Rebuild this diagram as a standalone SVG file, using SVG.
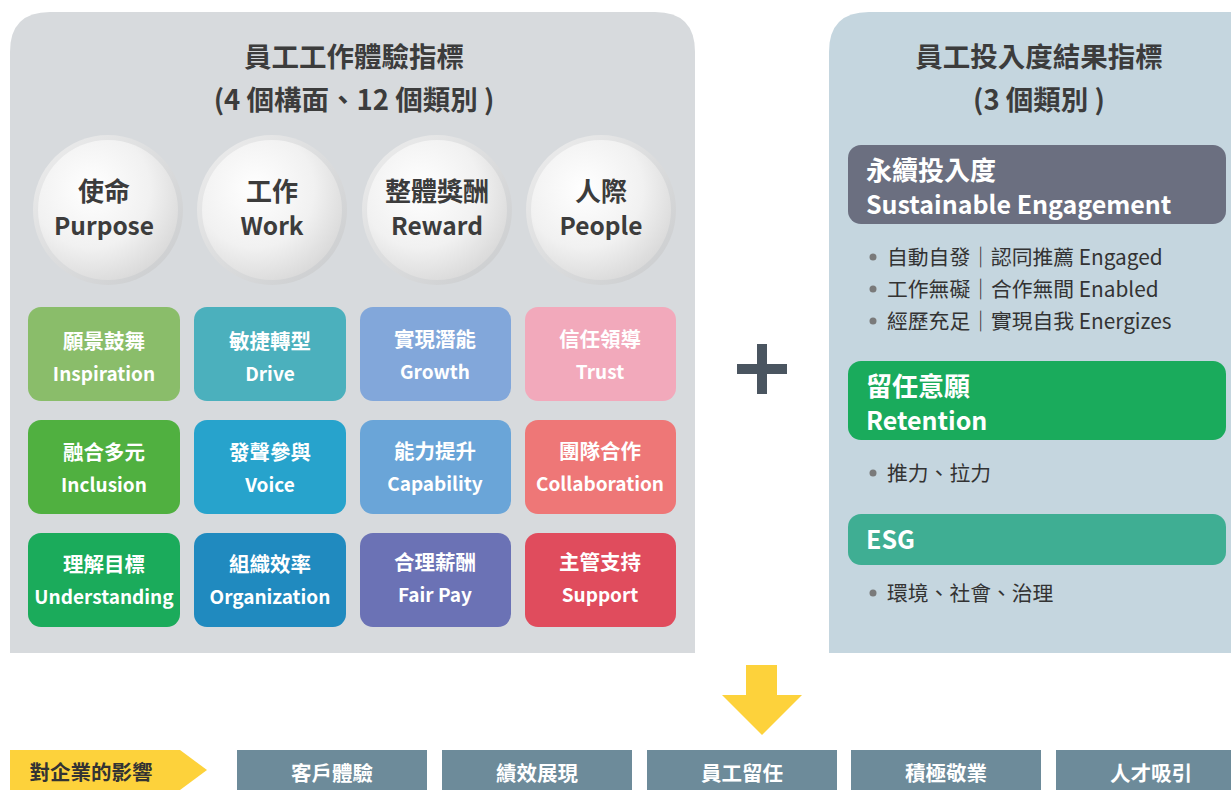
<svg xmlns="http://www.w3.org/2000/svg" width="1231" height="790" viewBox="0 0 1231 790">
<defs>
<radialGradient id="cg" cx="0.38" cy="0.35" r="0.7">
<stop offset="0" stop-color="#ffffff"/>
<stop offset="0.6" stop-color="#f1f1f1"/>
<stop offset="1" stop-color="#d9d9d9"/>
</radialGradient>
<linearGradient id="rg" x1="0" y1="0" x2="1" y2="1">
<stop offset="0" stop-color="#eeeeee"/>
<stop offset="1" stop-color="#c9cbcd"/>
</linearGradient>
<style>
text{font-family:"Noto Sans CJK TC","Noto Sans",sans-serif}
.ttl{font-size:27.5px;font-weight:700;fill:#3c3c3c;text-anchor:middle}
.cir{font-size:26px;font-weight:700;fill:#3c3c3c;text-anchor:middle}
.cire{font-size:24.5px;font-weight:700;fill:#3c3c3c;text-anchor:middle}
.tile{font-size:20.5px;font-weight:700;fill:#ffffff;text-anchor:middle}
.tilee{font-size:19px;font-weight:700;fill:#ffffff;text-anchor:middle}
.hd{font-size:26px;font-weight:700;fill:#ffffff}
.hde{font-size:25px;font-weight:700;fill:#ffffff}
.bl{font-size:20.8px;fill:#333333}
.dot{fill:#7a7a7a}
.bt{font-size:20.5px;font-weight:700;fill:#ffffff;text-anchor:middle}
.gb{fill:#6d8b9a}
</style>
</defs>
<rect width="1231" height="790" fill="#ffffff"/>
<g id="left-panel">
<path d="M10 653 V52 Q10 12 50 12 H655 Q695 12 695 52 V653 Z" fill="#d7dadd"/>
<text class="ttl" x="354" y="67">員工工作體驗指標</text>
<text class="ttl" x="354" y="110">(4 個構面、12 個類別 )</text>
</g>
<g id="circle-purpose">
<circle cx="108" cy="210" r="75" fill="url(#rg)"/>
<circle cx="108" cy="210" r="70" fill="url(#cg)"/>
<text class="cir" x="104" y="201">使命</text>
<text class="cire" x="104" y="235">Purpose</text>
</g>
<g id="circle-work">
<circle cx="272" cy="210" r="75" fill="url(#rg)"/>
<circle cx="272" cy="210" r="70" fill="url(#cg)"/>
<text class="cir" x="272" y="201">工作</text>
<text class="cire" x="272" y="235">Work</text>
</g>
<g id="circle-reward">
<circle cx="437" cy="210" r="75" fill="url(#rg)"/>
<circle cx="437" cy="210" r="70" fill="url(#cg)"/>
<text class="cir" x="437" y="201">整體獎酬</text>
<text class="cire" x="437" y="235">Reward</text>
</g>
<g id="circle-people">
<circle cx="601" cy="210" r="75" fill="url(#rg)"/>
<circle cx="601" cy="210" r="70" fill="url(#cg)"/>
<text class="cir" x="601" y="201">人際</text>
<text class="cire" x="601" y="235">People</text>
</g>
<g id="tile-inspiration"><rect x="28" y="307" width="152" height="94" rx="13" fill="#8abd6a"/><text class="tile" x="104" y="349">願景鼓舞</text><text class="tilee" x="104" y="381">Inspiration</text></g>
<g id="tile-drive"><rect x="194" y="307" width="152" height="94" rx="13" fill="#4bb0bd"/><text class="tile" x="270" y="349">敏捷轉型</text><text class="tilee" x="270" y="381">Drive</text></g>
<g id="tile-growth"><rect x="360" y="307" width="151" height="94" rx="13" fill="#82a7da"/><text class="tile" x="435" y="347">實現潛能</text><text class="tilee" x="435" y="379">Growth</text></g>
<g id="tile-trust"><rect x="525" y="307" width="151" height="94" rx="13" fill="#f2a9bb"/><text class="tile" x="600" y="347">信任領導</text><text class="tilee" x="600" y="379">Trust</text></g>
<g id="tile-inclusion"><rect x="28" y="420" width="152" height="94" rx="13" fill="#50b040"/><text class="tile" x="104" y="460">融合多元</text><text class="tilee" x="104" y="492">Inclusion</text></g>
<g id="tile-voice"><rect x="194" y="420" width="152" height="94" rx="13" fill="#27a3cc"/><text class="tile" x="270" y="460">發聲參與</text><text class="tilee" x="270" y="492">Voice</text></g>
<g id="tile-capability"><rect x="360" y="420" width="151" height="94" rx="13" fill="#6aa5d8"/><text class="tile" x="435" y="459">能力提升</text><text class="tilee" x="435" y="491">Capability</text></g>
<g id="tile-collaboration"><rect x="525" y="420" width="151" height="94" rx="13" fill="#ee7777"/><text class="tile" x="600" y="459">團隊合作</text><text class="tilee" x="600" y="491">Collaboration</text></g>
<g id="tile-understanding"><rect x="28" y="533" width="152" height="94" rx="13" fill="#1bab5b"/><text class="tile" x="104" y="572">理解目標</text><text class="tilee" x="104" y="604">Understanding</text></g>
<g id="tile-organization"><rect x="194" y="533" width="152" height="94" rx="13" fill="#208abf"/><text class="tile" x="270" y="572">組織效率</text><text class="tilee" x="270" y="604">Organization</text></g>
<g id="tile-fairpay"><rect x="360" y="533" width="151" height="94" rx="13" fill="#6b72b5"/><text class="tile" x="435" y="570">合理薪酬</text><text class="tilee" x="435" y="602">Fair Pay</text></g>
<g id="tile-support"><rect x="525" y="533" width="151" height="94" rx="13" fill="#e04c5d"/><text class="tile" x="600" y="570">主管支持</text><text class="tilee" x="600" y="602">Support</text></g>
<g id="plus">
<rect x="737" y="364" width="50" height="10" fill="#4a5560"/>
<rect x="757" y="344" width="10" height="50" fill="#4a5560"/>
</g>
<g id="right-panel">
<path d="M829 653 V52 Q829 12 869 12 H1231 V653 Z" fill="#c5d6df"/>
<text class="ttl" x="1039" y="67">員工投入度結果指標</text>
<text class="ttl" x="1039" y="110">(3 個類別 )</text>
</g>
<g id="box-engagement">
<rect x="848" y="145" width="378" height="79" rx="13" fill="#6b6f80"/>
<text class="hd" x="866" y="180">永續投入度</text>
<text class="hde" x="866" y="214">Sustainable Engagement</text>
<circle class="dot" cx="873" cy="257" r="3.5"/><text class="bl" x="887" y="265">自動自發｜認同推薦 Engaged</text>
<circle class="dot" cx="873" cy="289" r="3.5"/><text class="bl" x="887" y="297">工作無礙｜合作無間 Enabled</text>
<circle class="dot" cx="873" cy="321" r="3.5"/><text class="bl" x="887" y="329">經歷充足｜實現自我 Energizes</text>
</g>
<g id="box-retention">
<rect x="848" y="361" width="378" height="79" rx="13" fill="#1aab5c"/>
<text class="hd" x="866" y="396">留任意願</text>
<text class="hde" x="866" y="430">Retention</text>
<circle class="dot" cx="873" cy="473" r="3.5"/><text class="bl" x="887" y="481">推力、拉力</text>
</g>
<g id="box-esg">
<rect x="848" y="514" width="378" height="51" rx="13" fill="#3fae93"/>
<text class="hde" x="866" y="549">ESG</text>
<circle class="dot" cx="873" cy="593" r="3.5"/><text class="bl" x="887" y="601">環境、社會、治理</text>
</g>
<g id="connectors">
<path d="M746 665 H777 V695 H802 L762 735 L722 695 H746 Z" fill="#fdd23b"/>
</g>
<g id="impact-label">
<path d="M10 750 H180 L207 770 L180 790 H10 Z" fill="#fdd23b"/>
<text x="91" y="780" style="font-size:20.5px;font-weight:700;fill:#333333;text-anchor:middle">對企業的影響</text>
</g>
<g id="impact-customer"><rect class="gb" x="237" y="750" width="190" height="40"/><text class="bt" x="332" y="781">客戶體驗</text></g>
<g id="impact-performance"><rect class="gb" x="442" y="750" width="190" height="40"/><text class="bt" x="537" y="781">績效展現</text></g>
<g id="impact-retention"><rect class="gb" x="647" y="750" width="190" height="40"/><text class="bt" x="742" y="781">員工留任</text></g>
<g id="impact-engagement"><rect class="gb" x="851" y="750" width="190" height="40"/><text class="bt" x="946" y="781">積極敬業</text></g>
<g id="impact-talent"><rect class="gb" x="1056" y="750" width="175" height="40"/><text class="bt" x="1151" y="781">人才吸引</text></g>
</svg>
